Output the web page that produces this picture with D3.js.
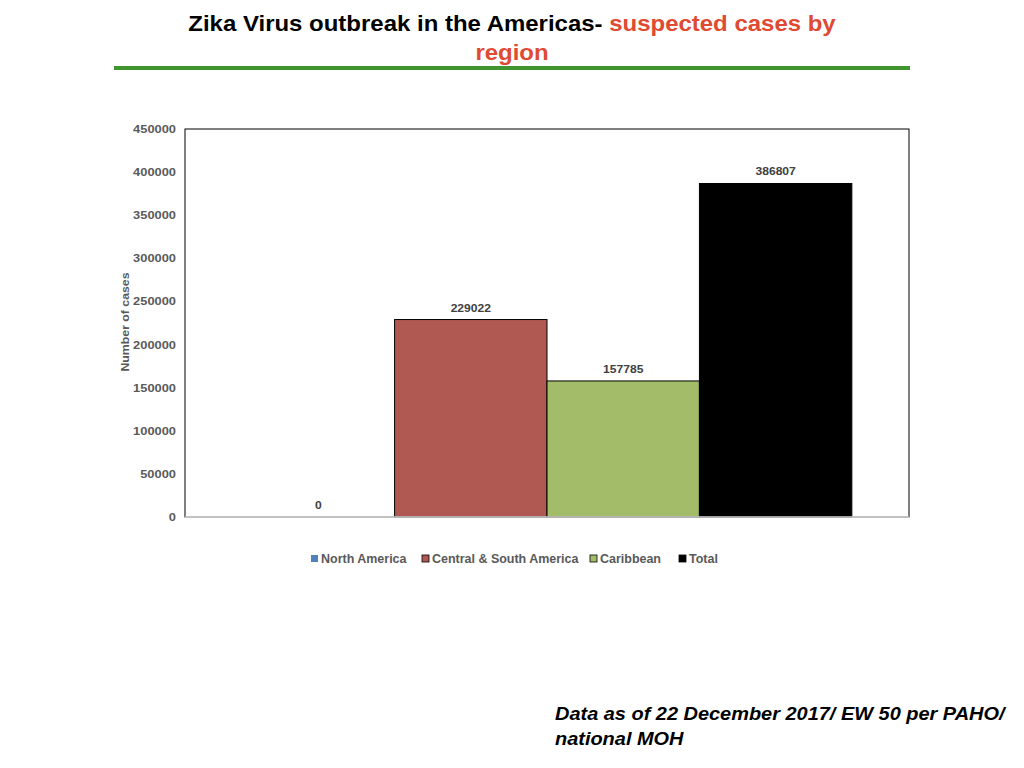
<!DOCTYPE html>
<html>
<head>
<meta charset="utf-8">
<script src="https://cdn.jsdelivr.net/npm/d3@7"></script>
<style>
  body { margin: 0; background: #fff; }
  svg { display: block; font-family: "Liberation Sans", Arial, Helvetica, sans-serif; }
</style>
</head>
<body>
<svg id="chart" width="1024" height="768"></svg>
<script>
// chart data
const regions = ["North America", "Central & South America", "Caribbean", "Total"];
const cases = [0, 229022, 157785, 386807];
const colors = ["#4f81bd", "#b05852", "#a2bc69", "#000000"];
const yTicks = [0, 50000, 100000, 150000, 200000, 250000, 300000, 350000, 400000, 450000];

const svg = d3.select("#chart");
const margin = {top: 129, right: 115, bottom: 251, left: 185};
const width = 1024, height = 768;
const innerW = width - margin.left - margin.right;
const innerH = height - margin.top - margin.bottom;

// the slide text is a bit wider than plain Arial, so stretch it horizontally
function stretchedText(parent, x, y, sx) {
    return parent.append("g")
        .attr("transform", `translate(${x},${y}) scale(${sx},1)`)
        .append("text");
}

// title
const title = stretchedText(svg, 512, 31, 1.09)
    .attr("text-anchor", "middle")
    .attr("font-size", 22).attr("font-weight", "bold");
title.append("tspan").attr("fill", "#000").text("Zika Virus outbreak in the Americas- ");
title.append("tspan").attr("fill", "#e04a32").text("suspected cases by");
stretchedText(svg, 512, 60, 1.09)
    .attr("text-anchor", "middle")
    .attr("font-size", 22).attr("font-weight", "bold")
    .attr("fill", "#e04a32")
    .text("region");

svg.append("rect")
    .attr("x", 114).attr("y", 66)
    .attr("width", 796).attr("height", 4)
    .attr("fill", "#3f962f");

const g = svg.append("g").attr("transform", `translate(${margin.left},${margin.top})`);

const x = d3.scaleBand()
    .domain(regions)
    .range([0, innerW])
    .paddingInner(0)
    .paddingOuter(0.375);

const y = d3.scaleLinear()
    .domain([0, 450000])
    .range([innerH, 0]);

// frame
g.append("rect")
    .attr("x", 0).attr("y", 0)
    .attr("width", innerW).attr("height", innerH)
    .attr("fill", "none")
    .attr("stroke", "#000").attr("stroke-width", 1);

// bars
g.selectAll(".bar")
    .data(regions)
    .enter().append("rect")
    .attr("class", "bar")
    .attr("x", d => x(d))
    .attr("y", (d, i) => y(cases[i]))
    .attr("width", x.bandwidth())
    .attr("height", (d, i) => innerH - y(cases[i]))
    .attr("fill", (d, i) => colors[i])
    .attr("stroke", (d, i) => cases[i] > 0 ? "#000" : "none")
    .attr("stroke-width", 1);

// baseline
g.append("line")
    .attr("x1", 0).attr("x2", innerW)
    .attr("y1", innerH).attr("y2", innerH)
    .attr("stroke", "#d9d9d9").attr("stroke-width", 1.5);

// value labels
regions.forEach((r, i) => {
    stretchedText(g, x(r) + x.bandwidth() / 2, y(cases[i]) - 8, 1.1)
        .attr("text-anchor", "middle")
        .attr("font-size", 11).attr("font-weight", "bold")
        .attr("fill", "#404040")
        .text(cases[i]);
});

// y axis
const yAxis = g.append("g")
    .call(d3.axisLeft(y).tickValues(yTicks).tickSize(0).tickPadding(9).tickFormat(d3.format("d")));
yAxis.select(".domain").remove();
yAxis.selectAll("text")
    .attr("font-size", 11).attr("font-weight", "bold")
    .attr("fill", "#595959")
    .attr("font-family", "Liberation Sans, Arial, sans-serif")
    .attr("transform", "translate(-9,0) scale(1.17,1) translate(9,0)");

svg.append("g")
    .attr("transform", `translate(129,322) rotate(-90) scale(1.12,1)`)
    .append("text")
    .attr("text-anchor", "middle")
    .attr("font-size", 11).attr("font-weight", "bold")
    .attr("fill", "#595959")
    .text("Number of cases");

// legend
const legendX = [311, 422, 590, 679];
const legend = svg.append("g").attr("transform", "translate(0,563)");
regions.forEach((r, i) => {
    legend.append("rect")
        .attr("x", legendX[i]).attr("y", -8)
        .attr("width", 7).attr("height", 7)
        .attr("fill", colors[i])
        .attr("stroke", i === 0 ? "none" : "#000")
        .attr("stroke-width", 0.8);
    stretchedText(legend, legendX[i] + 10, 0, 1.04)
        .attr("font-size", 12).attr("font-weight", "bold")
        .attr("fill", "#595959")
        .text(r);
});

// footnote
const note = ["Data as of 22 December 2017/ EW 50 per PAHO/", "national MOH"];
note.forEach((d, i) => {
    stretchedText(svg, 555, 720 + i * 25, 1.05)
        .attr("font-size", 19).attr("font-weight", "bold").attr("font-style", "italic")
        .attr("fill", "#000")
        .text(d);
});
</script>
</body>
</html>
